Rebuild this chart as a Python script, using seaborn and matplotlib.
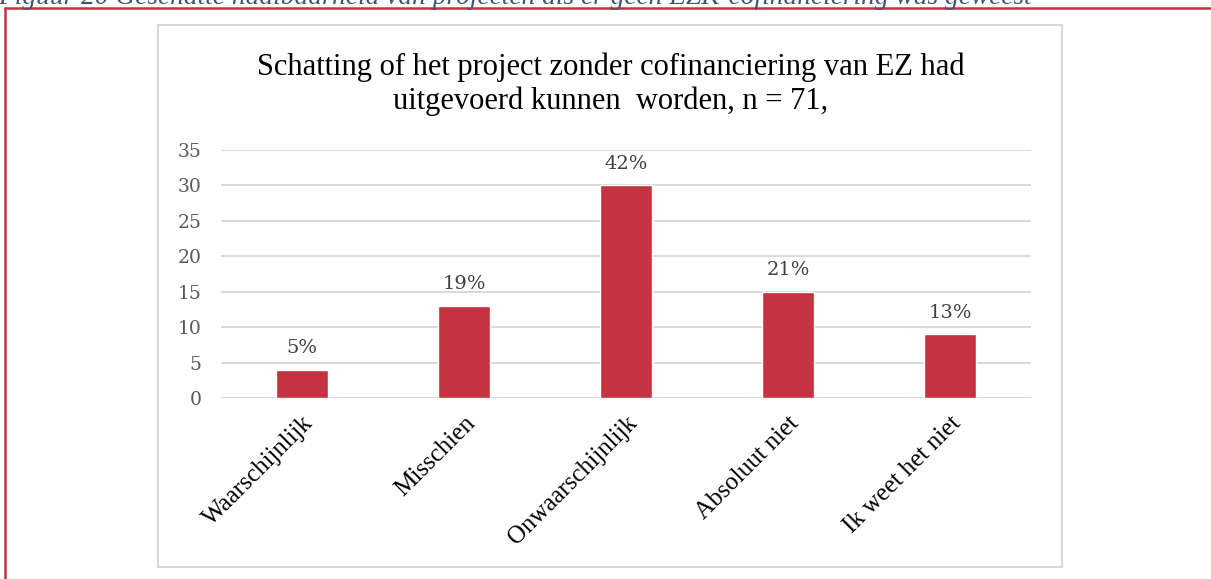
import matplotlib
matplotlib.use("Agg")
import matplotlib.pyplot as plt
import seaborn as sns
import pandas as pd
from matplotlib.patches import Rectangle
from matplotlib.lines import Line2D

categories = ["Waarschijnlijk", "Misschien", "Onwaarschijnlijk", "Absoluut niet", "Ik weet het niet"]
counts = [4, 13, 30, 15, 9]
pct_labels = ["5%", "19%", "42%", "21%", "13%"]
y_ticks = [0, 5, 10, 15, 20, 25, 30, 35]

title = "Schatting of het project zonder cofinanciering van EZ had\nuitgevoerd kunnen  worden, n = 71,"
caption = "Figuur 20 Geschatte haalbaarheid van projecten als er geen EZK-cofinanciering was geweest"

bar_red = "#C4333F"
grid_grey = "#D9D9D9"

sns.set_theme(style="white")
plt.rcParams["font.family"] = ["DejaVu Serif"]

df = pd.DataFrame({"cat": categories, "n": counts})

W, H = 1211, 579
fig = plt.figure(figsize=(W / 100, H / 100), dpi=100)
ax = fig.add_axes([221 / W, 1 - 398 / H, 810 / W, 248 / H])

sns.barplot(data=df, x="cat", y="n", color=bar_red, width=0.32, saturation=1, ax=ax, zorder=3)

ax.set_ylim(0, 35)
ax.set_yticks(y_ticks)
ax.set_xlim(-0.5, len(categories) - 0.5)
ax.yaxis.grid(True, color=grid_grey, linewidth=1.4, zorder=0)
ax.xaxis.grid(False)
for s in ax.spines.values():
    s.set_visible(False)
ax.axhline(0, color=grid_grey, linewidth=1.4, zorder=2)
ax.set_xlabel("")
ax.set_ylabel("")
ax.tick_params(axis="both", length=0)
ax.tick_params(axis="y", pad=14, labelsize=13.5, labelcolor="#595959")
ax.tick_params(axis="x", pad=10)
for lab in ax.get_yticklabels():
    lab.set_fontfamily("DejaVu Serif")

ax.set_xticks(range(len(categories)))
ax.set_xticklabels(categories, rotation=45, ha="right", rotation_mode="anchor",
                   fontsize=18, family="Liberation Serif", color="black")

for i, (v, lab) in enumerate(zip(counts, pct_labels)):
    ax.annotate(lab, (i, v), xytext=(0, 9), textcoords="offset points",
                ha="center", va="bottom", fontsize=14, color="#404040",
                family="DejaVu Serif")

fig.text(611 / W, 1 - 84 / H, title, ha="center", va="center", fontsize=22,
         family="Liberation Serif", color="black", linespacing=1.2)

# chart frame
fig.patches.append(Rectangle((158 / W, 1 - 567 / H), 904 / W, 542 / H,
                             transform=fig.transFigure, fill=False,
                             edgecolor=grid_grey, linewidth=1.5))
# red page frame
fig.lines.append(Line2D([5 / W, 5 / W], [0, 1 - 8 / H], transform=fig.transFigure,
                        color=bar_red, linewidth=1.8))
fig.lines.append(Line2D([5 / W, 1], [1 - 8 / H, 1 - 8 / H], transform=fig.transFigure,
                        color=bar_red, linewidth=1.8))

fig.text(-2 / W, 1 - 4 / H, caption, ha="left", va="baseline", fontsize=19.7,
         family="Liberation Serif", style="italic", color="#44546A")

fig.savefig("out.png", dpi=100)
